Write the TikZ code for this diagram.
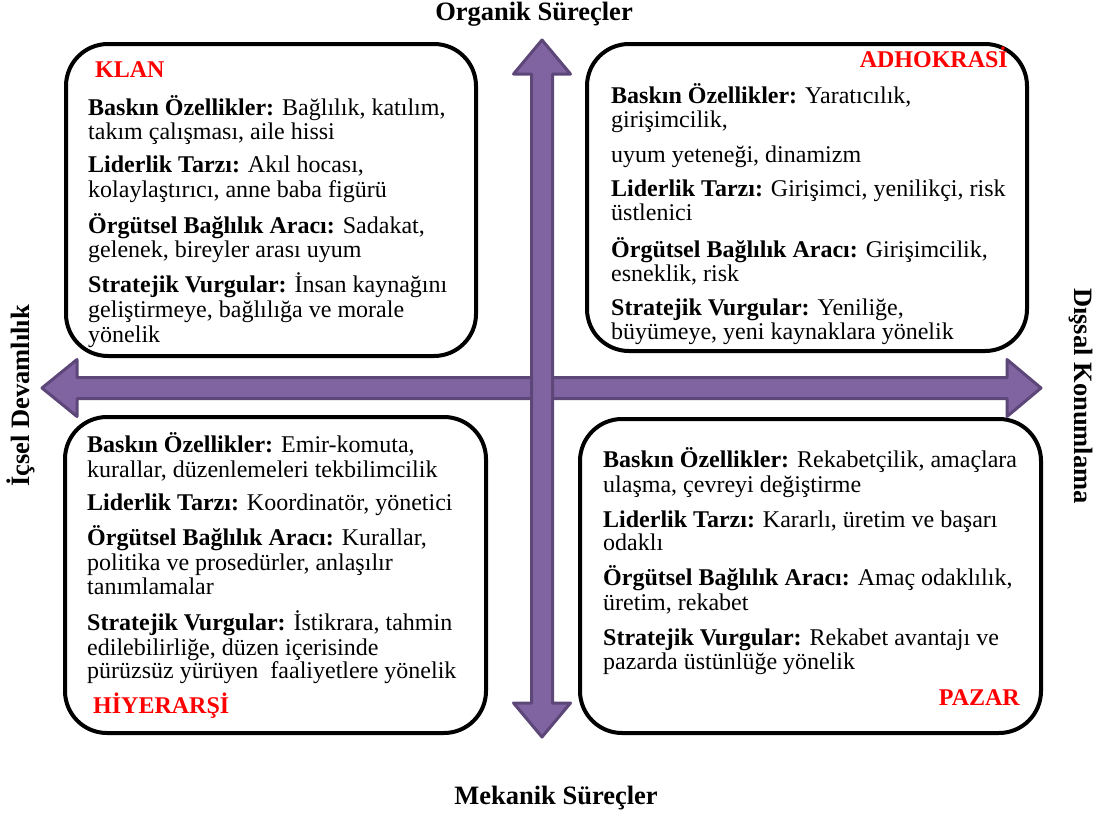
\documentclass[tikz,border=0pt]{standalone}
\usepackage{fontspec}
\setmainfont{Liberation Serif}
\definecolor{arrowfill}{HTML}{8064A2}
\definecolor{arrowline}{HTML}{5C4778}
\definecolor{labred}{HTML}{FF0000}
\begin{document}
\begin{tikzpicture}[x=1pt,y=-1pt,
  axis/.style={fill=arrowfill,draw=arrowline,line width=3pt,line join=round},
  qbox/.style={draw=black,line width=4pt,rounded corners=42pt,fill=white,inner sep=0pt},
  txt/.style={anchor=base west,inner sep=0pt,font=\fontsize{24}{26}\selectfont},
  qhead/.style={inner sep=0pt,text=labred,font=\fontsize{24}{26}\selectfont\bfseries},
  axlabel/.style={inner sep=0pt,font=\fontsize{26.5}{28}\selectfont\bfseries}]
\useasboundingbox (0,0) rectangle (1098,814);
% quadrant boxes
\node[qbox,minimum width=410pt,minimum height=312pt] (klan) at (271,200) {};
\node[qbox,minimum width=440pt,minimum height=307pt] (adho) at (807,197.5) {};
\node[qbox,minimum width=421pt,minimum height=316pt] (hiye) at (275.5,575) {};
\node[qbox,minimum width=461pt,minimum height=314pt] (pazar) at (810.5,576) {};
% axes
\coordinate (hL) at (42,388);
\coordinate (hR) at (1041,388);
\coordinate (vT) at (542,40);
\coordinate (vB) at (542,737);
\draw[axis] (hL) -- (77,359.5) -- (77,377.5) -- (1007,377.5) -- (1007,359.5) -- (hR)
  -- (1007,416.5) -- (1007,398.5) -- (77,398.5) -- (77,416.5) -- cycle;
\draw[axis] (vT) -- (570.5,74) -- (552.5,74) -- (552.5,703) -- (570.5,703) -- (vB)
  -- (513.5,703) -- (531.5,703) -- (531.5,74) -- (513.5,74) -- cycle;
% axis labels
\node[axlabel,anchor=base] (org) at (534,20) {Organik Süreçler};
\node[axlabel,anchor=base] (mek) at (556,804) {Mekanik Süreçler};
\node[axlabel,rotate=90] (icsel) at (21,396) {İçsel Devamlılık};
\node[axlabel,rotate=-90] (dissal) at (1081,396) {Dışsal Konumlama};
% KLAN
\node[qhead,anchor=base west] (klanh) at (95,77) {KLAN};
\node[txt] (k1) at (88,115) {\textbf{Baskın Özellikler:} Bağlılık, katılım,};
\node[txt] (k2) at (88,139) {takım çalışması, aile hissi};
\node[txt] (k3) at (88,172) {\textbf{Liderlik Tarzı:} Akıl hocası,};
\node[txt] (k4) at (88,197) {kolaylaştırıcı, anne baba figürü};
\node[txt] (k5) at (88,233) {\textbf{Örgütsel Bağlılık Aracı:} Sadakat,};
\node[txt] (k6) at (88,257) {gelenek, bireyler arası uyum};
\node[txt] (k7) at (88,292) {\textbf{Stratejik Vurgular:} İnsan kaynağını};
\node[txt] (k8) at (88,317) {geliştirmeye, bağlılığa ve morale};
\node[txt] (k9) at (88,342) {yönelik};
% ADHOKRASI
\node[qhead,anchor=base east] (adhoh) at (1008,67) {ADHOKRASİ};
\node[txt] (a1) at (611,103) {\textbf{Baskın Özellikler:} Yaratıcılık,};
\node[txt] (a2) at (611,127) {girişimcilik,};
\node[txt] (a3) at (611,162) {uyum yeteneği, dinamizm};
\node[txt] (a4) at (611,196) {\textbf{Liderlik Tarzı:} Girişimci, yenilikçi, risk};
\node[txt] (a5) at (611,220) {üstlenici};
\node[txt] (a6) at (611,257) {\textbf{Örgütsel Bağlılık Aracı:} Girişimcilik,};
\node[txt] (a7) at (611,281) {esneklik, risk};
\node[txt] (a8) at (611,315) {\textbf{Stratejik Vurgular:} Yeniliğe,};
\node[txt] (a9) at (611,339) {büyümeye, yeni kaynaklara yönelik};
% HIYERARSI
\node[txt] (h1) at (87,452) {\textbf{Baskın Özellikler:} Emir-komuta,};
\node[txt] (h2) at (87,477) {kurallar, düzenlemeleri tekbilimcilik};
\node[txt] (h3) at (87,510) {\textbf{Liderlik Tarzı:} Koordinatör, yönetici};
\node[txt] (h4) at (87,545) {\textbf{Örgütsel Bağlılık Aracı:} Kurallar,};
\node[txt] (h5) at (87,570) {politika ve prosedürler, anlaşılır};
\node[txt] (h6) at (87,594) {tanımlamalar};
\node[txt] (h7) at (87,630) {\textbf{Stratejik Vurgular:} İstikrara, tahmin};
\node[txt] (h8) at (87,655) {edilebilirliğe, düzen içerisinde};
\node[txt] (h9) at (87,678) {pürüzsüz yürüyen\ \ faaliyetlere yönelik};
\node[qhead,anchor=base west] (hiyeh) at (93,713) {HİYERARŞİ};
% PAZAR
\node[txt] (p1) at (603,467) {\textbf{Baskın Özellikler:} Rekabetçilik, amaçlara};
\node[txt] (p2) at (603,492) {ulaşma, çevreyi değiştirme};
\node[txt] (p3) at (603,527) {\textbf{Liderlik Tarzı:} Kararlı, üretim ve başarı};
\node[txt] (p4) at (603,550) {odaklı};
\node[txt] (p5) at (603,585) {\textbf{Örgütsel Bağlılık Aracı:} Amaç odaklılık,};
\node[txt] (p6) at (603,610) {üretim, rekabet};
\node[txt] (p7) at (603,645) {\textbf{Stratejik Vurgular:} Rekabet avantajı ve};
\node[txt] (p8) at (603,669) {pazarda üstünlüğe yönelik};
\node[qhead,anchor=base east] (pazarh) at (1020,705) {PAZAR};
\end{tikzpicture}
\end{document}
